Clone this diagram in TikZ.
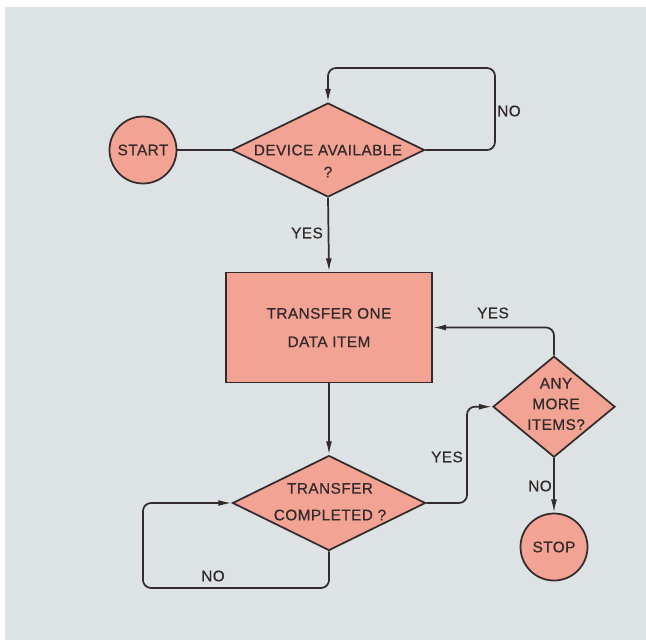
\documentclass[tikz,border=0pt]{standalone}
\usepackage{fontspec}
\setmainfont{Liberation Sans}[FakeBold=0.6,LetterSpace=3]
\usetikzlibrary{shapes.geometric,arrows.meta}
\definecolor{bgc}{HTML}{DDE2E5}
\definecolor{boxc}{HTML}{F2A393}
\definecolor{inkc}{HTML}{332B2B}
\begin{document}
\begin{tikzpicture}[x=0.75pt,y=-0.75pt,
  every node/.style={text=inkc},
  base/.style={draw=inkc,line width=1.3pt,fill=boxc,inner sep=0pt},
  termc/.style={base,circle,minimum size={67*0.75pt},font=\fontsize{11.5}{14}\selectfont},
  dia/.style={base,diamond},
  procbox/.style={base,rectangle,minimum width={206*0.75pt},minimum height={110*0.75pt}},
  txt/.style={align=center,inner sep=0pt},
  lbl/.style={inner sep=0pt,font=\fontsize{11.5}{14}\selectfont},
  conn/.style={draw=inkc,line width=1.3pt,rounded corners=6pt},
  arr/.style={conn,-{Latex[length=10pt,width=4.5pt]}}
]
\useasboundingbox (0,0) rectangle (646,640);
\fill[white] (0,0) rectangle (646,640);
\fill[bgc] (5,7) rectangle (646,640);

% nodes
\node[termc] (start) at (143,150) {START};
\node[dia,minimum width={193*0.75pt},minimum height={94*0.75pt}] (d1) at (328,150) {};
\node[txt,font=\fontsize{11.5}{16.5}\selectfont] (t1) at (328,161) {DEVICE AVAILABLE\\?};
\node[procbox] (p1) at (329,327.5) {};
\node[txt,font=\fontsize{11.5}{21.3}\selectfont] (t2) at (329,327.5) {TRANSFER ONE\\DATA ITEM};
\node[dia,minimum width={193*0.75pt},minimum height={95*0.75pt}] (d3) at (329,503) {};
\node[txt,font=\fontsize{11.5}{20}\selectfont] (t3) at (330,501.7) {TRANSFER\\COMPLETED ?};
\node[dia,minimum width={122*0.75pt},minimum height={101*0.75pt}] (d2) at (554,406.7) {};
\node[txt,font=\fontsize{11.5}{15.5}\selectfont] (t4) at (556,404) {ANY\\MORE\\ITEMS?};
\node[termc] (stop) at (554,547) {STOP};

% corner coordinates
\coordinate (n1) at (495,68);
\coordinate (y1) at (467,455);
\coordinate (n2) at (143,588);

% connectors
\draw[conn] (start) -- (d1.west);
\draw[arr] (d1.east) -| (n1) -| (d1.north);
\draw[arr] (d1.south) -- (p1.north);
\draw[arr] (p1.south) -- (d3.north);
\draw[arr] (d3.east) -| (y1) |- (d2.west);
\draw[arr] (d2.north) |- (p1.east);
\draw[arr] (d2.south) -- (stop.north);
\draw[arr] (d3.south) |- (n2) |- (d3.west);

% labels
\node[lbl] (lno1) at (509,111) {NO};
\node[lbl] (lyes1) at (307,233) {YES};
\node[lbl] (lyes2) at (493,313) {YES};
\node[lbl] (lyes3) at (447,457) {YES};
\node[lbl] (lno2) at (540,486) {NO};
\node[lbl] (lno3) at (213,576) {NO};
\end{tikzpicture}
\end{document}
